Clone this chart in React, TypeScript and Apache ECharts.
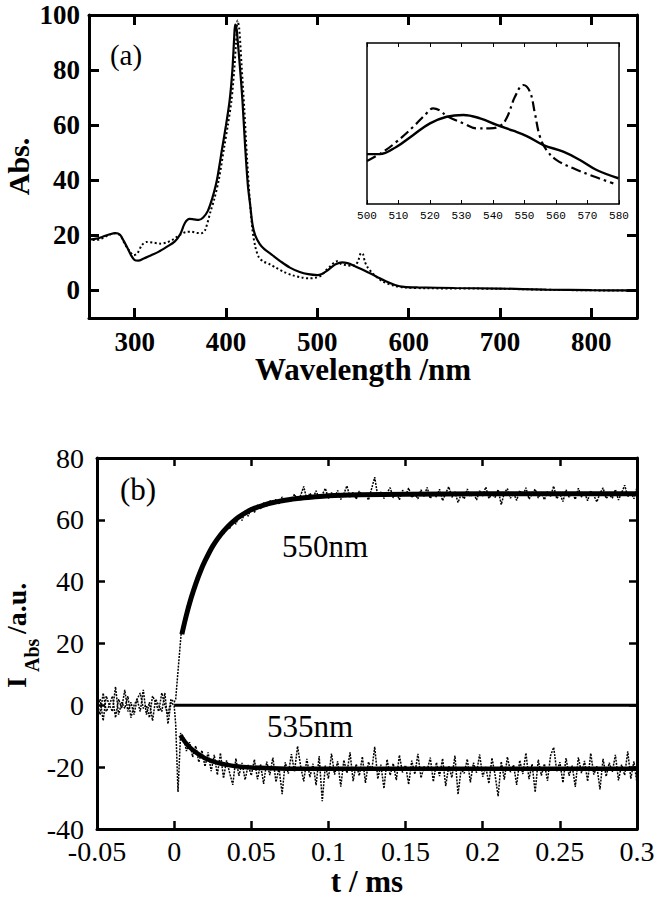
import React, { useEffect, useRef } from "react";
import * as echarts from "echarts";

// ---------- Panel (a): absorption spectra ----------
const wlSolid = [250, 258, 265, 272, 279, 284, 288, 292, 296, 300, 304, 310, 318, 326, 335, 344, 350, 355, 360, 365, 370, 375, 380, 385, 390, 396, 400, 404, 407, 409, 410, 411.5, 413, 416, 418, 421, 424, 426.5, 429, 432, 437, 442, 450, 460, 470, 480, 490, 500, 505, 510, 515, 520, 527, 533, 540, 548, 556, 565, 575, 585, 595, 610, 650, 700, 750, 800, 850];
const absSolid = [18.5, 18.8, 19.5, 20.3, 20.8, 20.2, 18, 15.5, 12.8, 11, 10.8, 11.6, 12.8, 14, 15.8, 17.8, 20.5, 24.5, 26, 25.8, 25.6, 26.5, 28.8, 33.5, 40, 52, 60, 69, 80, 92, 96.5, 95, 90, 78, 69, 52, 38, 31, 24, 20, 16.8, 15, 13, 10.5, 8.3, 6.8, 5.9, 5.6, 6.0, 7.0, 8.3, 9.5, 10.2, 9.9, 9.0, 7.8, 6.5, 5.0, 3.3, 2.0, 1.3, 1.1, 0.9, 0.7, 0.3, 0.1, 0];

const wlDotted = [250, 256, 262, 270, 278, 284, 289, 294, 299, 303, 308, 313, 320, 328, 335, 342, 350, 356, 362, 368, 373, 377, 383, 387, 392, 398, 402, 406, 409, 411, 412.7, 414.5, 417, 420, 423, 426, 429, 432, 436, 441, 448, 455, 463, 473, 483, 491, 498, 504, 510, 515, 519, 522, 526, 531, 537, 542, 545, 548, 550, 552, 555, 560, 566, 573, 583, 595, 620, 700, 760, 850];
const absDotted = [19.4, 18.3, 18.6, 19.8, 20.8, 20, 17, 14.5, 12.8, 13.5, 16.5, 17.6, 17.4, 17, 17.4, 18.5, 20.3, 21.2, 21.3, 20.9, 20.8, 21.8, 28.6, 33, 40, 52, 60, 69, 80, 90, 98, 95, 82, 66, 48, 33, 22, 16, 12, 10.5, 9.5, 8.2, 6.8, 5.5, 4.7, 4.4, 4.6, 5.4, 7.5, 9.0, 10.3, 10.6, 9.6, 9.2, 9.0, 9.3, 11, 13.6, 13.2, 10.5, 8.4, 6.4, 4.6, 3.0, 1.8, 1.1, 0.8, 0.6, 0.2, -0.1];

const wlTicks = [300, 400, 500, 600, 700, 800];
const absTicks = [0, 20, 40, 60, 80, 100];

// inset (relative absorbance, no scale shown)
const insetWlSolid = [500, 504, 509.4, 514.7, 520, 525.3, 530.6, 535.9, 541.2, 546.4, 550.7, 556, 562.3, 567.6, 572.9, 579.8];
const insetSolid = [31, 31, 35.6, 42.9, 50.1, 54.2, 55.3, 53.2, 49.1, 45.5, 42.2, 36.6, 32.5, 27.3, 21.1, 16];
const insetWlDash = [500, 505.2, 509.4, 514.7, 518.9, 521, 523.2, 525.3, 530.6, 534.8, 539, 542.2, 544.3, 547, 549.6, 551.7, 553.3, 554.9, 557, 560.2, 565.5, 570.8, 578.2];
const insetDash = [26.7, 32.5, 38.7, 48, 56.3, 59.4, 58, 54.7, 50.1, 47, 47, 48.4, 53.2, 66.7, 73.9, 69.8, 56.3, 41.8, 33.5, 27.3, 22.2, 18, 12.8];

// ---------- Panel (b): transient absorption ----------
const tPreStart = -0.05; // baseline samples every 0.002 ms up to 0
const tStep = 0.002;
const pre550 = [1, -3, 4, -2, 0, 3, -4, 2, -1, 5, -2, 1, -3, 2, 4, -1, 0, -4, 3, 1, -2, 4, 0, -3, 2, 1];
const pre535 = [-1, 2, -5, 3, 0, -2, 6, -3, 1, -1, 3, -4, 0, 2, -2, 5, -3, 1, -5, 2, 0, -2, 4, -6, 1, 0];
const trigT550 = [0.001, 0.003, 0.0045];
const trig550 = [2, 14, 23];
const trigT535 = [0.001, 0.0025, 0.0042];
const trig535 = [-6, -28, -9];
const tPostStart = 0.006; // post-trigger samples every 0.002 ms up to 0.3
const post550 = [25.8, 28.9, 33.6, 35.7, 39.9, 41.4, 45.3, 46.1, 49.5, 50.0, 52.9, 52.8, 55.9, 55.4, 58.1, 57.2, 59.9, 58.6, 61.5, 59.8, 62.9, 61.2, 64.0, 62.4, 64.8, 63.6, 65.5, 64.2, 66.3, 64.9, 66.6, 65.2, 67.4, 65.9, 67.2, 66.1, 68.3, 66.4, 67.9, 70.8, 66.5, 68.6, 67.0, 69.4, 66.8, 68.1, 70.2, 66.9, 68.8, 67.3, 69.5, 66.6, 68.4, 71.0, 67.2, 68.9, 66.7, 69.3, 67.8, 68.5, 66.4, 70.1, 73.8, 67.5, 69.0, 66.9, 68.7, 70.4, 67.1, 68.9, 66.5, 69.6, 67.9, 70.3, 67.2, 68.4, 66.8, 69.7, 67.6, 70.5, 66.9, 68.8, 67.4, 69.9, 66.2, 68.6, 70.7, 67.3, 69.1, 65.6, 68.2, 66.8, 70.0, 67.5, 68.9, 66.4, 69.4, 67.7, 70.6, 66.9, 68.5, 67.2, 69.8, 64.9, 68.7, 70.1, 67.0, 68.6, 66.3, 69.5, 67.8, 70.4, 66.7, 68.3, 69.9, 67.1, 68.8, 66.5, 69.2, 67.6, 70.9, 66.8, 68.4, 65.9, 69.7, 67.3, 68.9, 66.6, 70.2, 67.4, 68.7, 66.2, 69.4, 67.9, 65.8, 68.6, 70.3, 66.9, 68.2, 67.0, 69.8, 66.4, 68.7, 71.2, 67.5, 69.1, 66.8, 70.5];
const post535 = [-10.2, -14.8, -11.9, -16.7, -13.1, -18.4, -14.6, -19.8, -15.2, -21.3, -16.0, -22.5, -15.4, -23.6, -17.8, -21.9, -25.7, -17.2, -22.8, -18.6, -24.1, -19.3, -22.7, -17.5, -23.9, -19.1, -25.4, -18.2, -22.6, -16.9, -24.8, -20.3, -28.7, -18.4, -22.1, -15.8, -21.5, -13.2, -19.7, -24.6, -17.3, -23.2, -18.9, -25.8, -16.4, -31.0, -19.5, -23.7, -15.6, -22.4, -18.1, -26.3, -17.7, -21.9, -15.2, -24.5, -19.0, -22.8, -16.6, -25.1, -18.3, -21.4, -13.4, -23.8, -19.2, -26.9, -17.5, -22.6, -18.8, -24.2, -16.1, -21.7, -19.4, -25.6, -17.9, -22.3, -15.7, -23.5, -19.8, -21.1, -16.9, -24.7, -18.5, -22.9, -17.2, -26.1, -19.6, -23.4, -16.3, -28.8, -20.7, -22.0, -17.4, -24.9, -18.6, -21.8, -15.9, -23.1, -19.9, -25.3, -17.0, -22.5, -29.4, -18.2, -24.0, -16.7, -21.6, -19.3, -25.7, -17.8, -22.2, -15.4, -23.9, -19.0, -28.1, -17.6, -22.7, -18.9, -24.4, -16.2, -13.6, -21.3, -18.4, -25.0, -17.1, -22.8, -19.5, -26.4, -16.8, -21.9, -18.0, -24.6, -15.5, -22.4, -19.7, -27.2, -17.3, -23.0, -18.6, -21.5, -16.0, -24.3, -19.2, -22.6, -14.9, -23.7, -18.1, -25.2];

const fitT550 = [0.005, 0.008, 0.011, 0.014, 0.017, 0.02, 0.025, 0.03, 0.035, 0.04, 0.045, 0.05, 0.06, 0.07, 0.08, 0.09, 0.1, 0.12, 0.15, 0.2, 0.25, 0.3];
const fit550 = [23, 29.3, 34.7, 39.3, 43.3, 46.7, 51.5, 55.1, 57.9, 60.2, 61.9, 63.3, 65.1, 66.2, 66.9, 67.4, 67.8, 68.1, 68.3, 68.4, 68.4, 68.4];
const fitT535 = [0.004, 0.007, 0.01, 0.013, 0.016, 0.02, 0.025, 0.03, 0.035, 0.04, 0.05, 0.06, 0.08, 0.1, 0.15, 0.2, 0.25, 0.3];
const fit535 = [-9.7, -11.8, -13.5, -14.8, -15.9, -17.1, -18.1, -18.8, -19.3, -19.7, -20.1, -20.3, -20.5, -20.5, -20.5, -20.5, -20.5, -20.5];
const zeroT = [0, 0.3];
const zeroV = [0, 0];

const SERIF = "Liberation Serif, Times New Roman, serif";
const MONO = "Liberation Mono, monospace";

const zip = (xs: number[], ys: number[]) => xs.map((x, i) => [x, ys[i]]);
const noisy = (pre: number[], trigT: number[], trig: number[], post: number[]) => {
  const out: number[][] = [];
  pre.forEach((v, i) => out.push([+(tPreStart + i * tStep).toFixed(4), v]));
  trig.forEach((v, i) => out.push([trigT[i], v]));
  post.forEach((v, i) => out.push([+(tPostStart + i * tStep).toFixed(4), v]));
  return out;
};

export default function App() {
  const ref = useRef<HTMLDivElement>(null);
  useEffect(() => {
    if (!ref.current) return;
    const chart = echarts.init(ref.current, undefined, { renderer: "svg" });
    const line = (w: number) => ({ show: true, onZero: false, lineStyle: { color: "#000", width: w } });
    const tickA = (len: number, w: number, vals?: number[]) => ({
      show: true,
      inside: true,
      length: len,
      lineStyle: { color: "#000", width: w },
      ...(vals ? { customValues: vals } : {}),
    });
    const txt = (x: number, y: number, text: string, font: string, rot = 0, align = "center") => ({
      type: "text", x, y, rotation: rot,
      style: { text, font, fill: "#000", textAlign: align, textVerticalAlign: "middle", align, verticalAlign: "middle" },
    });
    const option: any = {
      animation: false,
      backgroundColor: "#fff",
      grid: [
        { left: 89, top: 15, width: 548, height: 303, show: false, containLabel: false, outerBoundsMode: "none" },
        { left: 367, top: 43, width: 252, height: 161, show: true, borderWidth: 0, backgroundColor: "#fff", containLabel: false, outerBoundsMode: "none" },
        { left: 97, top: 458, width: 540, height: 371, show: false, containLabel: false, outerBoundsMode: "none" },
      ],
      xAxis: [
        {
          gridIndex: 0, type: "value", min: 250, max: 850, position: "bottom",
          axisLine: line(3), splitLine: { show: false }, axisTick: tickA(10, 3, wlTicks),
          axisLabel: { customValues: wlTicks, color: "#000", fontFamily: SERIF, fontWeight: "bold", fontSize: 27, margin: 10 },
          name: "Wavelength /nm", nameLocation: "middle", nameGap: 36, nameMoveOverlap: false,
          nameTextStyle: { color: "#000", fontFamily: SERIF, fontWeight: "bold", fontSize: 31 },
        },
        {
          gridIndex: 0, type: "value", min: 250, max: 850, position: "top",
          axisLine: line(3), splitLine: { show: false }, axisTick: tickA(10, 3, wlTicks), axisLabel: { show: false },
        },
        {
          gridIndex: 1, type: "value", min: 500, max: 580, interval: 10, position: "bottom",
          axisLine: line(1.5), splitLine: { show: false }, axisTick: tickA(4, 1),
          axisLabel: { color: "#000", fontFamily: MONO, fontSize: 11, margin: 6 },
        },
        {
          gridIndex: 1, type: "value", min: 500, max: 580, interval: 10, position: "top",
          axisLine: line(1.5), splitLine: { show: false }, axisTick: tickA(4, 1), axisLabel: { show: false },
        },
        {
          gridIndex: 2, type: "value", min: -0.05, max: 0.3, interval: 0.05, position: "bottom",
          axisLine: line(3), splitLine: { show: false }, axisTick: tickA(8, 2.5),
          axisLabel: { color: "#000", fontFamily: SERIF, fontSize: 28, margin: 8 },
          name: "t / ms", nameLocation: "middle", nameGap: 37,
          nameTextStyle: { color: "#000", fontFamily: SERIF, fontWeight: "bold", fontSize: 31 },
        },
        {
          gridIndex: 2, type: "value", min: -0.05, max: 0.3, interval: 0.05, position: "top",
          axisLine: line(3), splitLine: { show: false }, axisTick: tickA(8, 2.5), axisLabel: { show: false },
        },
      ],
      yAxis: [
        {
          gridIndex: 0, type: "value", min: -10, max: 100, position: "left",
          axisLine: line(3), splitLine: { show: false }, axisTick: tickA(10, 3, absTicks),
          axisLabel: { customValues: absTicks, color: "#000", fontFamily: SERIF, fontWeight: "bold", fontSize: 27, margin: 9 },
          name: "Abs.", nameLocation: "middle", nameGap: 56, nameRotate: 90, nameMoveOverlap: false,
          nameTextStyle: { color: "#000", fontFamily: SERIF, fontWeight: "bold", fontSize: 30 },
        },
        {
          gridIndex: 0, type: "value", min: -10, max: 100, position: "right",
          axisLine: line(3), splitLine: { show: false }, axisTick: tickA(10, 3, absTicks), axisLabel: { show: false },
        },
        {
          gridIndex: 1, type: "value", min: 0, max: 100, position: "left",
          axisLine: line(1.5), splitLine: { show: false }, axisTick: { show: false }, axisLabel: { show: false },
        },
        {
          gridIndex: 2, type: "value", min: -40, max: 80, interval: 20, position: "left",
          axisLine: line(3), splitLine: { show: false }, axisTick: tickA(8, 2.5),
          axisLabel: { color: "#000", fontFamily: SERIF, fontSize: 28, margin: 13 },
        },
        {
          gridIndex: 2, type: "value", min: -40, max: 80, interval: 20, position: "right",
          axisLine: line(3), splitLine: { show: false }, axisTick: tickA(8, 2.5), axisLabel: { show: false },
        },
        {
          gridIndex: 1, type: "value", min: 0, max: 100, position: "right",
          axisLine: line(1.5), splitLine: { show: false }, axisTick: { show: false }, axisLabel: { show: false },
        },
      ],
      series: [
        {
          type: "line", xAxisIndex: 0, yAxisIndex: 0, data: zip(wlDotted, absDotted), showSymbol: false, smooth: 0.3,
          lineStyle: { color: "#000", width: 2, type: [2, 2.5] }, z: 2,
        },
        {
          type: "line", xAxisIndex: 0, yAxisIndex: 0, data: zip(wlSolid, absSolid), showSymbol: false, smooth: 0.3,
          lineStyle: { color: "#000", width: 2.2 }, z: 3,
        },
        {
          type: "line", xAxisIndex: 2, yAxisIndex: 2, data: zip(insetWlSolid, insetSolid), showSymbol: false, smooth: 0.4,
          lineStyle: { color: "#000", width: 2.4 }, z: 5,
        },
        {
          type: "line", xAxisIndex: 2, yAxisIndex: 2, data: zip(insetWlDash, insetDash), showSymbol: false, smooth: 0.4,
          lineStyle: { color: "#000", width: 2.2, type: [10, 4, 2.5, 4] }, z: 5,
        },
        {
          type: "line", xAxisIndex: 4, yAxisIndex: 3, data: noisy(pre550, trigT550, trig550, post550), showSymbol: false,
          lineStyle: { color: "#000", width: 1.5, type: [2, 1.2] }, z: 2,
        },
        {
          type: "line", xAxisIndex: 4, yAxisIndex: 3, data: noisy(pre535, trigT535, trig535, post535), showSymbol: false,
          lineStyle: { color: "#000", width: 1.5, type: [2, 1.2] }, z: 2,
        },
        {
          type: "line", xAxisIndex: 4, yAxisIndex: 3, data: zip(fitT550, fit550), showSymbol: false, smooth: 0.3,
          lineStyle: { color: "#000", width: 5 }, z: 4,
        },
        {
          type: "line", xAxisIndex: 4, yAxisIndex: 3, data: zip(fitT535, fit535), showSymbol: false, smooth: 0.3,
          lineStyle: { color: "#000", width: 4.5 }, z: 4,
        },
        {
          type: "line", xAxisIndex: 4, yAxisIndex: 3, data: zip(zeroT, zeroV), showSymbol: false,
          lineStyle: { color: "#000", width: 3 }, z: 4,
        },
      ],
      graphic: [
        txt(126, 55, "(a)", `29px ${SERIF}`),
        txt(138, 489, "(b)", `31px ${SERIF}`),
        txt(325, 546, "550nm", `31px ${SERIF}`),
        txt(310, 726, "535nm", `31px ${SERIF}`),
        txt(16, 688, "I", `bold 28px ${SERIF}`, Math.PI / 2, "left"),
        txt(32, 672, "Abs", `bold 20px ${SERIF}`, Math.PI / 2, "left"),
        txt(16, 634, "/a.u.", `bold 28px ${SERIF}`, Math.PI / 2, "left"),
      ],
    };
    chart.setOption(option);
    return () => chart.dispose();
  }, []);
  return <div ref={ref} style={{ position: "absolute", left: 0, top: 0, width: 656, height: 899 }} />;
}
